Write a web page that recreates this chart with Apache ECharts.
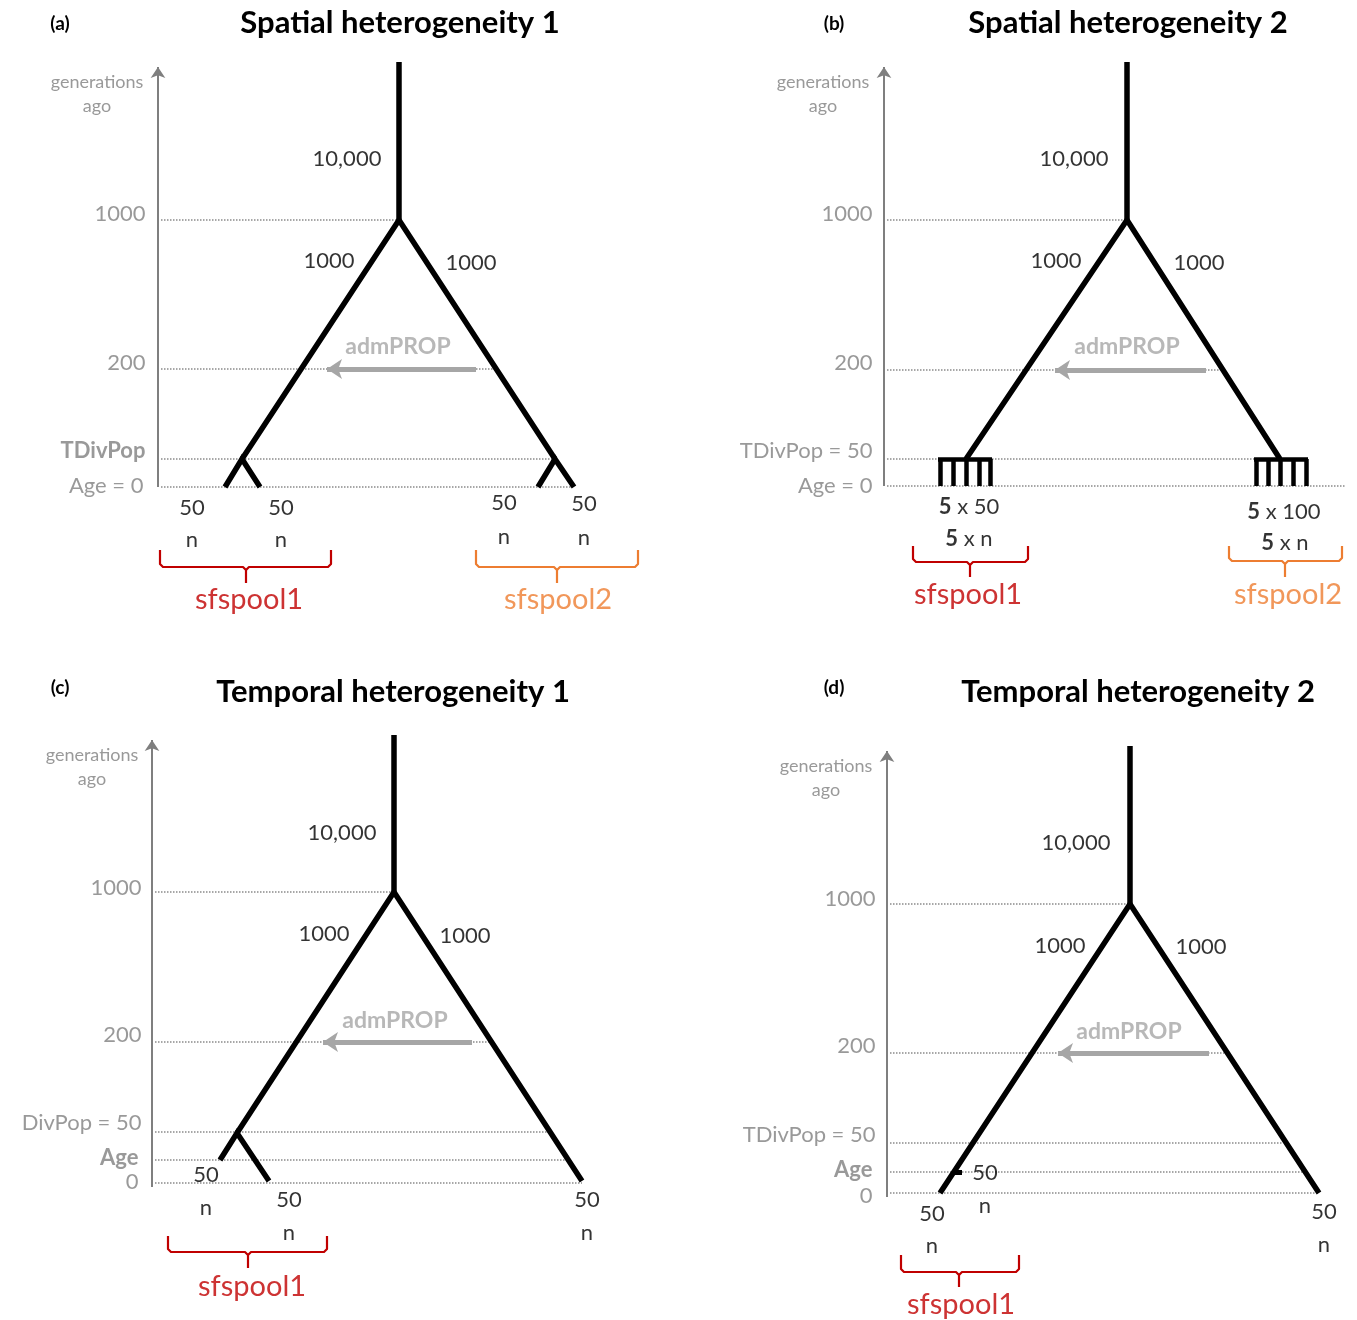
<!DOCTYPE html>
<html><head><meta charset="utf-8">
<script src="https://cdn.jsdelivr.net/npm/echarts@6/dist/echarts.min.js"></script>
<style>html,body{margin:0;padding:0;background:#fff}#c{width:1357px;height:1320px}</style>
</head><body><div id="c"></div>
<script>
// ================= DATA =================
const panelLetters = ['(a)', '(b)', '(c)', '(d)'];
const panelTitles = ['Spatial heterogeneity 1', 'Spatial heterogeneity 2', 'Temporal heterogeneity 1', 'Temporal heterogeneity 2'];
const axisNameLines = ['generations', 'ago'];
const migrationName = 'admPROP';

// ---- panel (a) : schematic diagram units (x across, y = schematic time height) ----
const axisA = [0, 425];
const levelLinesA = [[267, 241], [118, 335], [28, 396], [0, 413]];
const levelLabelsA = [['1000', -12, 273], ['200', -12, 124], ['{bold|TDivPop}', -12, 36], ['Age = 0', -14, 1]];
const treeA = [[[241, 425], [241, 267]], [[84, 28], [241, 267], [397, 28]], [[67, 0], [84, 28], [102, 0]], [[380, 0], [397, 28], [416, 0]]];
const combsA = [];
const stubsA = [];
const migrationA = [[318, 118], [162, 118]];
const migrationLabelA = [240, 140];
const popSizesA = [['10,000', 189, 328], ['1000', 171, 226], ['1000', 313, 224]];
const samplesA = [['50', 34, -21], ['n', 34, -53], ['50', 123, -21], ['n', 123, -53], ['50', 346, -16], ['n', 346, -50], ['50', 426, -17], ['n', 426, -51]];
const bracesA = [[2, 173, 88, -63, -80, -96, 0], [318, 480, 399, -63, -80, -96, 1]];
const poolsA = [['sfspool1', 91, -113, 0], ['sfspool2', 400, -113, 1]];
const axisNameA = [-61, 405, 381];

// ---- panel (b) ----
const axisB = [0, 424];
const levelLinesB = [[266, 242], [116, 335], [27, 371], [0, 461]];
const levelLabelsB = [['1000', -11, 272], ['200', -11, 123], ['TDivPop = 50', -11, 35], ['Age = 0', -11, 0]];
const treeB = [[[243, 424], [243, 266]], [[82, 27], [243, 266], [396, 27]]];
const combsB = [[[54, 27], [108, 27]], [[56, 27], [56, 0]], [[69, 27], [69, 0]], [[82, 27], [82, 0]], [[95, 27], [95, 0]], [[106, 27], [106, 0]],
                [[370, 27], [424, 27]], [[372, 27], [372, 0]], [[384, 27], [384, 0]], [[396, 27], [396, 0]], [[409, 27], [409, 0]], [[422, 27], [422, 0]]];
const stubsB = [];
const migrationB = [[322, 116], [164, 116]];
const migrationLabelB = [243, 139];
const popSizesB = [['10,000', 190, 327], ['1000', 172, 225], ['1000', 315, 223]];
const samplesB = [['{bold|5} x 50', 85, -21], ['{bold|5} x n', 85, -53], ['{bold|5} x 100', 400, -26], ['{bold|5} x n', 401, -57]];
const bracesB = [[29, 144, 86, -60, -76, -91, 0], [345, 458, 401, -60, -75, -91, 1]];
const poolsB = [['sfspool1', 84, -109, 0], ['sfspool2', 404, -109, 1]];
const axisNameB = [-61, 404, 380];

// ---- panel (c) ----
const axisC = [-4, 448];
const levelLinesC = [[291, 241], [141, 337], [51, 396], [23, 417], [0, 430]];
const levelLabelsC = [['1000', -10, 295], ['200', -10, 148], ['DivPop = 50', -10, 60], ['{bold|Age}', -13, 25], ['0', -13, 1]];
const treeC = [[[242, 448], [242, 291]], [[85, 50], [242, 291], [430, 2]], [[68, 23], [85, 50], [117, 2]]];
const combsC = [];
const stubsC = [];
const migrationC = [[320, 141], [164, 141]];
const migrationLabelC = [243, 162];
const popSizesC = [['10,000', 190, 350], ['1000', 172, 249], ['1000', 313, 247]];
const samplesC = [['50', 54, 8], ['n', 54, -25], ['50', 137, -17], ['n', 137, -50], ['50', 435, -17], ['n', 435, -50]];
const bracesC = [[16, 175, 96, -53, -69, -85, 0]];
const poolsC = [['sfspool1', 100, -104, 0]];
const axisNameC = [-60, 428, 404];

// ---- panel (d) ----
const axisD = [-4, 447];
const levelLinesD = [[289, 241], [140, 338], [50, 395], [21, 416], [0, 429]];
const levelLabelsD = [['1000', -11, 294], ['200', -11, 147], ['TDivPop = 50', -11, 58], ['{bold|Age}', -14, 23], ['0', -14, -3]];
const treeD = [[[243, 447], [243, 289]], [[53, 0], [243, 289], [432, 0]]];
const combsD = [];
const stubsD = [[[66, 21], [75, 21]]];
const migrationD = [[322, 140], [164, 140]];
const migrationLabelD = [242, 161];
const popSizesD = [['10,000', 189, 350], ['1000', 173, 247], ['1000', 314, 246]];
const samplesD = [['50', 98, 20], ['n', 98, -13], ['50', 45, -21], ['n', 45, -53], ['50', 437, -19], ['n', 437, -52]];
const bracesD = [[14, 132, 72, -62, -79, -94, 0]];
const poolsD = [['sfspool1', 74, -112, 0]];
const axisNameD = [-61, 427, 403];

// ================= LAYOUT / STYLE =================
const FONT = 'Lato, "Noto Sans", sans-serif';
const BLACK = '#000000', GRAY = '#7f7f7f', DOTGRAY = '#8a8a8a', ARROWGRAY = '#a6a6a6';
const poolColors = ['#c00000', '#ed7d31'];
const CANVAS_W = 1357, CANVAS_H = 1320;
const origins = [[158, 487], [884, 486], [152, 1183], [887, 1193]];
const titlePos = [[400, 23], [1128, 23], [393, 692], [1138, 692]];
const letterPos = [[60, 24], [834, 24], [60, 688], [834, 688]];
const X_MIN = -150, Y_MIN = -125, Y_MAX = 460;

const panels = [
  {axis: axisA, levelLines: levelLinesA, levelLabels: levelLabelsA, tree: treeA, combs: combsA, stubs: stubsA, migration: migrationA, migrationLabel: migrationLabelA, popSizes: popSizesA, samples: samplesA, braces: bracesA, pools: poolsA, axisName: axisNameA},
  {axis: axisB, levelLines: levelLinesB, levelLabels: levelLabelsB, tree: treeB, combs: combsB, stubs: stubsB, migration: migrationB, migrationLabel: migrationLabelB, popSizes: popSizesB, samples: samplesB, braces: bracesB, pools: poolsB, axisName: axisNameB},
  {axis: axisC, levelLines: levelLinesC, levelLabels: levelLabelsC, tree: treeC, combs: combsC, stubs: stubsC, migration: migrationC, migrationLabel: migrationLabelC, popSizes: popSizesC, samples: samplesC, braces: bracesC, pools: poolsC, axisName: axisNameC},
  {axis: axisD, levelLines: levelLinesD, levelLabels: levelLabelsD, tree: treeD, combs: combsD, stubs: stubsD, migration: migrationD, migrationLabel: migrationLabelD, popSizes: popSizesD, samples: samplesD, braces: bracesD, pools: poolsD, axisName: axisNameD}
];

function braceCoords(b) {
  const [x1, x2, xm, top, bar, tip] = b;
  return [
    [[x1, top], [x1, bar + 3], [x1 + 3, bar], [xm - 3, bar], [xm, bar - 3], [xm, tip]],
    [[x2, top], [x2, bar + 3], [x2 - 3, bar], [xm + 3, bar], [xm, bar - 3]]
  ];
}

const numLabel = {fontFamily: FONT, fontSize: 22, color: BLACK, position: 'inside',
  rich: {bold: {fontFamily: FONT, fontSize: 22, color: BLACK, fontWeight: 'bold'}}};
const levelLabel = {fontFamily: FONT, fontSize: 22, color: GRAY, position: 'left', distance: 0,
  rich: {bold: {fontFamily: FONT, fontSize: 22, color: GRAY, fontWeight: 'bold'}}};
const admLabel = {fontFamily: FONT, fontSize: 23, color: ARROWGRAY, fontWeight: 'bold', position: 'inside'};
const axisLabelStyle = {fontFamily: FONT, fontSize: 18, color: GRAY, position: 'inside'};

const grids = [], xAxes = [], yAxes = [], series = [];
panels.forEach((P, i) => {
  const [ox, oy] = origins[i];
  const xMax = Math.min(530, CANVAS_W - ox);
  grids.push({left: ox + X_MIN, top: oy - Y_MAX, width: xMax - X_MIN, height: Y_MAX - Y_MIN});
  xAxes.push({type: 'value', gridIndex: i, min: X_MIN, max: xMax, show: false});
  yAxes.push({type: 'value', gridIndex: i, min: Y_MIN, max: Y_MAX, show: false});
  const ax = {xAxisIndex: i, yAxisIndex: i, coordinateSystem: 'cartesian2d', silent: true, clip: false};

  // dotted time levels
  series.push(Object.assign({type: 'lines', z: 1,
    lineStyle: {color: DOTGRAY, width: 1.5, type: 'dotted', opacity: 1},
    data: P.levelLines.map(([h, end]) => ({coords: [[3, h], [end, h]]}))}, ax));
  // time axis arrow
  series.push(Object.assign({type: 'lines', z: 2, symbol: ['none', 'arrow'], symbolSize: 11,
    lineStyle: {color: GRAY, width: 2, opacity: 1},
    data: [{coords: [[0, P.axis[0]], [0, P.axis[1] - 5]]}]}, ax));
  // migration arrow
  series.push(Object.assign({type: 'lines', z: 3, symbol: ['none', 'arrow'], symbolSize: 15,
    lineStyle: {color: ARROWGRAY, width: 5, opacity: 1},
    data: [{coords: [P.migration[0], [P.migration[1][0] + 7, P.migration[1][1]]]}]}, ax));
  // tree
  series.push(Object.assign({type: 'lines', z: 5, polyline: true,
    lineStyle: {color: BLACK, width: 5.5, opacity: 1, join: 'miter', cap: 'butt'},
    data: P.tree.map(c => ({coords: c}))}, ax));
  if (P.combs.length) series.push(Object.assign({type: 'lines', z: 5,
    lineStyle: {color: BLACK, width: 4.5, opacity: 1, cap: 'butt'},
    data: P.combs.map(c => ({coords: c}))}, ax));
  if (P.stubs.length) series.push(Object.assign({type: 'lines', z: 5,
    lineStyle: {color: BLACK, width: 5, opacity: 1},
    data: P.stubs.map(c => ({coords: c}))}, ax));
  // braces
  const braceData = [];
  P.braces.forEach(b => braceCoords(b).forEach(c => braceData.push({coords: c, lineStyle: {color: poolColors[b[6]]}})));
  series.push(Object.assign({type: 'lines', z: 4, polyline: true,
    lineStyle: {width: 2.2, opacity: 1, join: 'round'}, data: braceData}, ax));

  // texts
  const items = [];
  P.popSizes.forEach(([t, x, y]) => items.push({name: t, value: [x, y], label: numLabel}));
  P.samples.forEach(([t, x, y]) => items.push({name: t, value: [x, y], label: numLabel}));
  P.levelLabels.forEach(([t, x, y]) => items.push({name: t, value: [x, y], label: levelLabel}));
  items.push({name: migrationName, value: P.migrationLabel, label: admLabel});
  items.push({name: axisNameLines[0], value: [P.axisName[0], P.axisName[1]], label: axisLabelStyle});
  items.push({name: axisNameLines[1], value: [P.axisName[0], P.axisName[2]], label: axisLabelStyle});
  P.pools.forEach(([t, x, y, k]) => items.push({name: t, value: [x, y],
    label: {fontFamily: FONT, fontSize: 29, color: poolColors[k], position: 'inside'}}));
  series.push(Object.assign({type: 'scatter', z: 10, symbolSize: 1,
    itemStyle: {color: 'rgba(0,0,0,0)'},
    label: {show: true, formatter: p => p.name},
    data: items}, ax));
});

const graphics = [];
panelTitles.forEach((t, i) => graphics.push({type: 'text', x: titlePos[i][0], y: titlePos[i][1], silent: true,
  style: {text: t, font: 'bold 31px ' + FONT, fill: BLACK, align: 'center', verticalAlign: 'middle', textAlign: 'center', textVerticalAlign: 'middle'}}));
panelLetters.forEach((t, i) => graphics.push({type: 'text', x: letterPos[i][0], y: letterPos[i][1], silent: true,
  style: {text: t, font: 'bold 19px ' + FONT, fill: BLACK, align: 'center', verticalAlign: 'middle', textAlign: 'center', textVerticalAlign: 'middle'}}));

const chart = echarts.init(document.getElementById('c'), null, {renderer: 'canvas'});
chart.setOption({
  animation: false,
  backgroundColor: '#ffffff',
  grid: grids, xAxis: xAxes, yAxis: yAxes,
  series: series,
  graphic: graphics
});
</script></body></html>
